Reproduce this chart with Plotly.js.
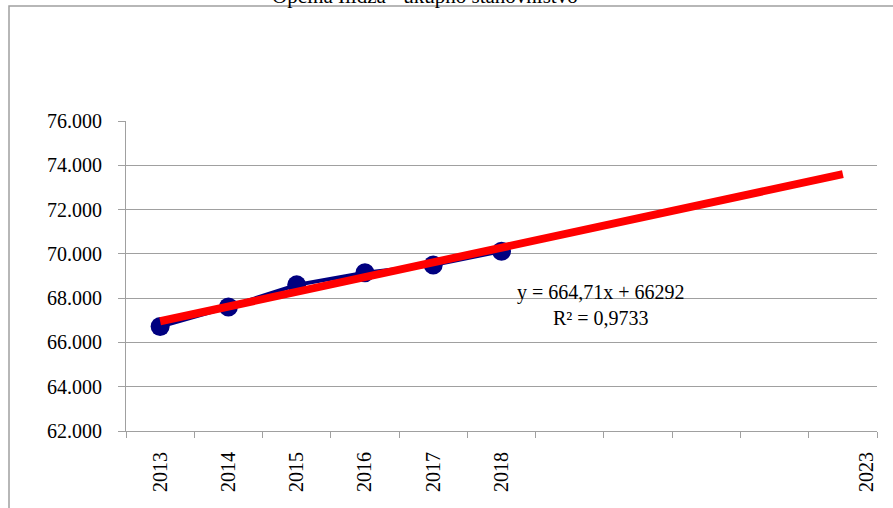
<!DOCTYPE html>
<html>
<head>
<meta charset="utf-8">
<script src="https://cdn.plot.ly/plotly-3.0.1.min.js"></script>
<style>html,body{margin:0;padding:0;background:#fff;}#chart{width:893px;height:508px;}</style>
</head>
<body>
<div id="chart"></div>
<script>
// Category labels of the x axis (11 slots, forecast to 2023)
const categoryLabels = ["2013", "2014", "2015", "2016", "2017", "2018", "", "", "", "", "2023"];
// Population values 2013-2018 (slot index 1..6)
const years = [1, 2, 3, 4, 5, 6];
const population = [66720, 67600, 68600, 69150, 69500, 70120];
// Linear trend line endpoints (slot 1 .. slot 11)
const trendX = [1, 11];
const trendY = [66957, 73604];
const yTicks = [62000, 64000, 66000, 68000, 70000, 72000, 74000, 76000];
const titleText = "Općina Ilidža - ukupno stanovništvo";
const equationText = "y = 664,71x + 66292<br>R² = 0,9733";

const labelIdx = [];
const labelText = [];
categoryLabels.forEach((c, i) => { if (c !== "") { labelIdx.push(i + 1); labelText.push(c); } });
// rotated 2023 label sits near the end of the axis in the original
const labelPos = labelIdx.map((v, k) => (k === labelIdx.length - 1 ? v + 0.35 : v));
const boundaries = [];
for (let i = 0; i <= categoryLabels.length; i++) boundaries.push(i + 0.5);

const font = "Liberation Serif, Times New Roman, serif";
const gray = "#a0a0a0";

const traces = [
  {
    x: years, y: population, type: "scatter", mode: "lines+markers",
    line: {color: "#000080", width: 4},
    marker: {color: "#000080", size: 19},
    hoverinfo: "skip", showlegend: false
  },
  {
    x: trendX, y: trendY, type: "scatter", mode: "lines",
    line: {color: "#ff0000", width: 8},
    hoverinfo: "skip", showlegend: false
  }
];

const layout = {
  width: 893, height: 508,
  margin: {l: 126, r: 16, t: 121, b: 77, pad: 0},
  paper_bgcolor: "#ffffff", plot_bgcolor: "#ffffff",
  separators: ",.",
  showlegend: false,
  font: {family: font, size: 20, color: "#000"},
  title: {
    text: titleText,
    font: {family: font, size: 21, color: "#000"},
    xref: "paper", x: 0.398, xanchor: "center",
    yref: "container", y: 0.994, yanchor: "bottom"
  },
  xaxis: {
    range: [0.5, categoryLabels.length + 0.5],
    tickmode: "array", tickvals: labelPos, ticktext: labelText,
    tickangle: -90, ticks: "", ticklabelstandoff: 12,
    showgrid: false, zeroline: false,
    showline: true, linecolor: gray, linewidth: 1,
    tickfont: {family: font, size: 20, color: "#000"},
    minor: {tickmode: "array", tickvals: boundaries, ticks: "outside", ticklen: 6, tickcolor: gray, tickwidth: 1, showgrid: false},
    fixedrange: true
  },
  yaxis: {
    range: [62000, 76000],
    tickmode: "array", tickvals: yTicks, tickformat: ",.0f",
    ticks: "outside", ticklen: 7, tickcolor: gray, tickwidth: 1,
    ticklabelstandoff: 12,
    showgrid: true, gridcolor: gray, gridwidth: 1,
    zeroline: false, showline: true, linecolor: gray, linewidth: 1,
    tickfont: {family: font, size: 20, color: "#000"},
    fixedrange: true
  },
  shapes: [
    {type: "rect", xref: "paper", yref: "paper",
     x0: (9 - 126) / 751, x1: 1.2, y0: -0.5, y1: (431 - 6) / 310,
     line: {color: gray, width: 1.5}, fillcolor: "rgba(0,0,0,0)", layer: "below"}
  ],
  annotations: [
    {text: equationText, xref: "paper", yref: "paper",
     x: 0.632, y: 0.405, xanchor: "center", yanchor: "middle",
     align: "center", showarrow: false,
     font: {family: font, size: 20, color: "#000"}}
  ]
};

Plotly.newPlot("chart", traces, layout, {staticPlot: true, displayModeBar: false});
</script>
</body>
</html>
